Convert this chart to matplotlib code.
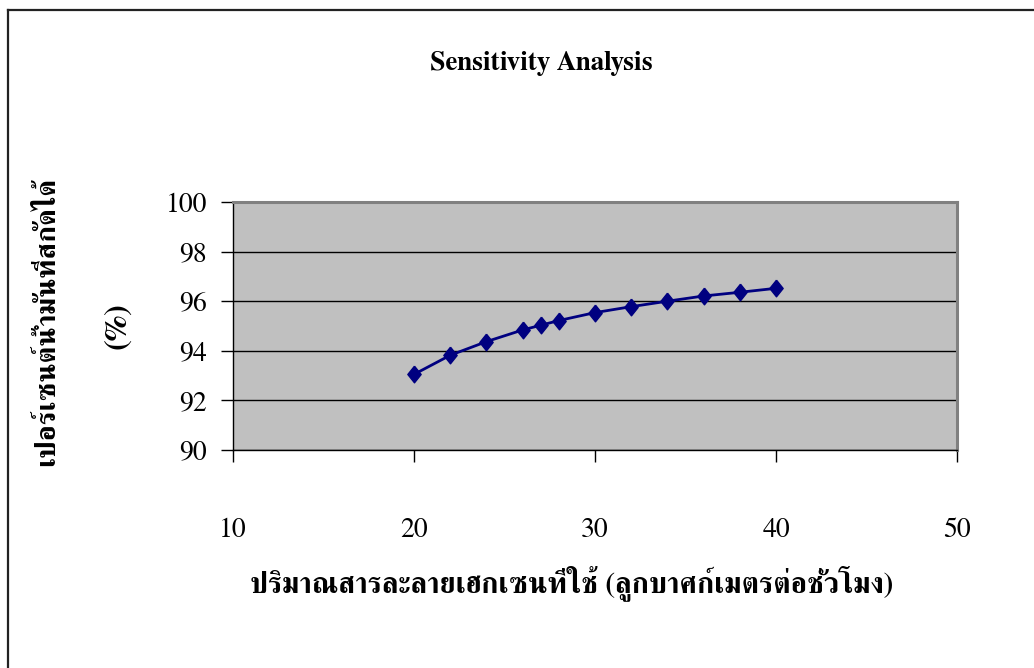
import matplotlib
matplotlib.use("Agg")
import matplotlib.pyplot as plt
from matplotlib.lines import Line2D

# Data
hexane_flow = [20, 22, 24, 26, 27, 28, 30, 32, 34, 36, 38, 40]
oil_percent = [93.05, 93.82, 94.37, 94.84, 95.03, 95.22, 95.54, 95.78, 96.00, 96.21, 96.36, 96.52]
x_ticks = [10, 20, 30, 40, 50]
y_ticks = [90, 92, 94, 96, 98, 100]

title = "Sensitivity Analysis"
x_label = "ปริมาณสารละลายเฮกเซนที่ใช้ (ลูกบาศก์เมตรต่อชั่วโมง)"
y_label_1 = "เปอร์เซนต์น้ำมันที่สกัดได้"
y_label_2 = "(%)"

FONT = ['FreeSerif', 'DejaVu Serif']
plt.rcParams['font.family'] = FONT

W, H = 1034, 668
fig = plt.figure(figsize=(W / 100, H / 100), dpi=100)
fig.patch.set_facecolor('white')

ax = fig.add_axes([233 / W, 1 - 450 / H, (957 - 233) / W, (450 - 202) / H])
ax.set_facecolor('#C0C0C0')

diamond = [(0, 1), (0.8, 0), (0, -1), (-0.8, 0), (0, 1)]
ax.plot(hexane_flow, oil_percent, color='#000080', lw=2, marker=diamond,
        ms=12, mfc='#000080', mec='#000080', zorder=3)

ax.set_xlim(10, 50)
ax.set_ylim(90, 100)
ax.set_xticks(x_ticks)
ax.set_yticks(y_ticks)
ax.set_xticklabels([str(v) for v in x_ticks])
ax.set_yticklabels([str(v) for v in y_ticks])
ax.tick_params(axis='x', length=8.6, width=1, direction='out', pad=40, labelsize=20, colors='black')
ax.tick_params(axis='y', length=8.6, width=1, direction='out', pad=10, labelsize=20, colors='black')

ax.yaxis.grid(True, color='black', lw=1)
ax.xaxis.grid(False)
ax.set_axisbelow(True)

for s in ['left', 'bottom']:
    ax.spines[s].set_color('black')
    ax.spines[s].set_linewidth(1)
for s in ['top', 'right']:
    ax.spines[s].set_color('#808080')
    ax.spines[s].set_linewidth(2.2)

fig.text(541 / W, 1 - 63 / H, title, ha='center', va='center', fontsize=19.5,
         fontweight='bold', family=FONT)
fig.text(572 / W, 1 - 583 / H, x_label, ha='center', va='center', fontsize=21,
         fontweight='bold', family=FONT)
fig.text(48 / W, 1 - 321 / H, y_label_1, ha='center', va='center', fontsize=20.5,
         fontweight='bold', rotation=90, family=FONT)
fig.text(118 / W, 1 - 326 / H, y_label_2, ha='center', va='center', fontsize=23,
         fontweight='bold', rotation=90, family=FONT)

# chart outer frame (top and left edges visible)
fig.add_artist(Line2D([8 / W, 1], [1 - 10 / H, 1 - 10 / H], transform=fig.transFigure,
                      color='#222222', lw=1.6))
fig.add_artist(Line2D([8 / W, 8 / W], [1 - 10 / H, 0], transform=fig.transFigure,
                      color='#222222', lw=1.6))

fig.savefig("out.png", dpi=100, facecolor='white')
